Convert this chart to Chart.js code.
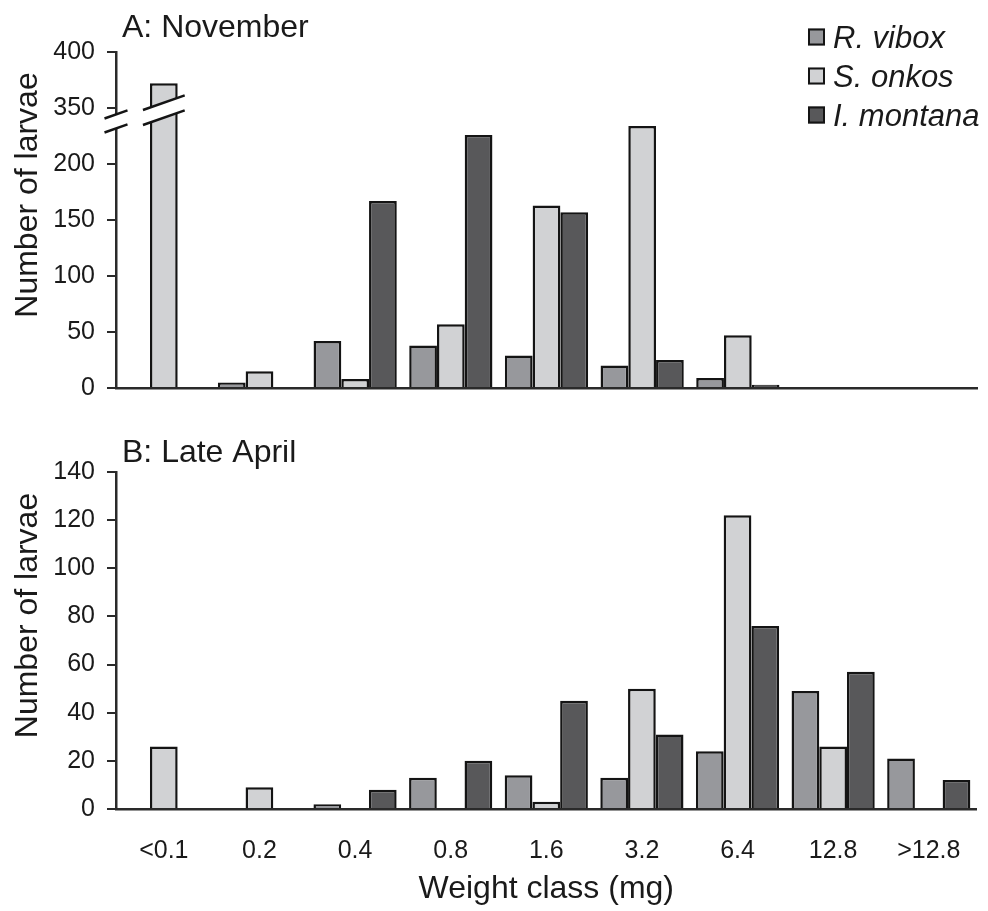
<!DOCTYPE html>
<html>
<head>
<meta charset="utf-8">
<title>Larval weight classes</title>
<script src="https://cdn.jsdelivr.net/npm/chart.js@4.4.1/dist/chart.umd.min.js"></script>
<style>
  html, body { margin: 0; padding: 0; background: #fff; }
  #wrap { position: relative; width: 988px; height: 911px; overflow: hidden; }
  #wrap canvas { position: absolute; left: 0; }
  #chartA { top: 0; }
  #chartB { top: 440px; }
</style>
</head>
<body>
<div id="wrap">
  <canvas id="chartA" width="988" height="430"></canvas>
  <canvas id="chartB" width="988" height="471"></canvas>
</div>
<script>
// ---- data ----
const weightClasses = ['<0.1', '0.2', '0.4', '0.8', '1.6', '3.2', '6.4', '12.8', '>12.8'];
const speciesNames = ['R. vibox', 'S. onkos', 'I. montana'];

// A: November, number of larvae per weight class
const novVibox   = [0, 5, 42, 38, 29, 20, 9, 0, 0];
const novOnkos   = [372, 15, 8, 57, 163, 234, 47, 0, 0];
const novMontana = [0, 0, 167, 226, 157, 25, 3, 0, 0];

// B: Late April, number of larvae per weight class
const aprVibox   = [0, 0, 2, 13, 14, 13, 24, 49, 21];
const aprOnkos   = [26, 9, 0, 0, 3, 50, 122, 26, 0];
const aprMontana = [0, 0, 8, 20, 45, 31, 76, 57, 12];

// y-axis tick labels
const novTicks = [0, 50, 100, 150, 200, 350, 400];
const aprTicks = [0, 20, 40, 60, 80, 100, 120, 140];

// ---- broken axis for panel A: values above the break are shifted down ----
const BREAK_SHIFT = 100;           // 350 is drawn where 250 would be
const toBroken = v => (v > 300 ? v - BREAK_SHIFT : v);

// ---- styling ----
const FONT = '"Liberation Sans", Arial, Helvetica, sans-serif';
Chart.defaults.font.family = FONT;
Chart.defaults.color = '#1a1a1a';
const fills = ['#97989c', '#d1d2d4', '#58585a'];
const edge = '#141414';
const axisColor = '#2a2a2a';

function makeDatasets(series, map) {
  return series.map((data, i) => ({
    label: speciesNames[i],
    data: data.map(map),
    backgroundColor: fills[i],
    borderColor: edge,
    borderWidth: 2.5,
    categoryPercentage: 0.87,
    barPercentage: 1.0
  }));
}

function makeScales(showX, yTicks, map) {
  return {
    x: {
      type: 'category',
      offset: true,
      grid: { display: false, drawTicks: false },
      border: { display: true, color: axisColor, width: 2.5, z: 1 },
      ticks: { display: showX, font: { size: 25 }, padding: 27, maxRotation: 0, autoSkip: false },
      title: { display: showX, text: 'Weight class (mg)', font: { size: 32 }, padding: { top: 0, bottom: 3 } },
      afterFit: s => { s.height = showX ? 102 : 0; }
    },
    y: {
      min: map(yTicks[0]),
      max: map(yTicks[yTicks.length - 1]),
      grid: { display: true, drawOnChartArea: false, drawTicks: true, tickLength: 9, color: axisColor, lineWidth: 2 },
      border: { display: true, color: axisColor, width: 2.5, z: 1 },
      ticks: { font: { size: 25 }, padding: 12, callback: (v, i) => String(yTicks[i]) },
      afterBuildTicks: s => { s.ticks = yTicks.map(v => ({ value: map(v) })); },
      afterFit: s => { s.width = 116; }
    }
  };
}

// panel heading and rotated y-axis title
const panelText = {
  id: 'panelText',
  afterDraw(chart, args, opts) {
    const { ctx, chartArea } = chart;
    ctx.save();
    ctx.fillStyle = '#1a1a1a';
    ctx.font = `32px ${FONT}`;
    ctx.textAlign = 'left';
    ctx.textBaseline = 'alphabetic';
    ctx.fillText(opts.heading, 122, chartArea.top - opts.headingGap);
    ctx.translate(37, (chartArea.top + chartArea.bottom) / 2 - 25);
    ctx.rotate(-Math.PI / 2);
    ctx.textAlign = 'center';
    ctx.fillText('Number of larvae', 0, 0);
    ctx.restore();
  }
};

// legend with small outlined squares, species names in italics
const speciesLegend = {
  id: 'speciesLegend',
  afterDraw(chart, args, opts) {
    if (!opts.show) return;
    const { ctx } = chart;
    ctx.save();
    chart.data.datasets.forEach((ds, i) => {
      const y = 37 + i * 39;
      ctx.fillStyle = ds.backgroundColor;
      ctx.fillRect(808, y - 8.5, 17, 17);
      ctx.strokeStyle = edge;
      ctx.lineWidth = 2;
      ctx.strokeRect(809, y - 7.5, 15, 15);
      ctx.fillStyle = '#1a1a1a';
      ctx.font = `italic 31px ${FONT}`;
      ctx.textAlign = 'left';
      ctx.textBaseline = 'middle';
      ctx.fillText(ds.label, 833, y + 2);
    });
    ctx.restore();
  }
};

// break marks on the y axis and across the tall bar
const axisBreak = {
  id: 'axisBreak',
  afterDraw(chart, args, opts) {
    if (!opts.show) return;
    const { ctx } = chart;
    const y = chart.scales.y;
    const slope = 0.35;
    function cut(cx, cy, half, gap) {
      const dy = slope * half;
      ctx.beginPath();
      ctx.moveTo(cx - half, cy - gap + dy);
      ctx.lineTo(cx + half, cy - gap - dy);
      ctx.lineTo(cx + half, cy + gap - dy);
      ctx.lineTo(cx - half, cy + gap + dy);
      ctx.closePath();
      ctx.fillStyle = '#fff';
      ctx.fill();
      ctx.beginPath();
      ctx.moveTo(cx - half, cy - gap + dy);
      ctx.lineTo(cx + half, cy - gap - dy);
      ctx.moveTo(cx - half, cy + gap + dy);
      ctx.lineTo(cx + half, cy + gap - dy);
      ctx.strokeStyle = edge;
      ctx.lineWidth = 2.5;
      ctx.stroke();
    }
    ctx.save();
    cut(chart.chartArea.left, y.getPixelForValue(opts.axisAt), 11.5, 7);
    const bar = chart.getDatasetMeta(opts.dataset).data[opts.index];
    cut(bar.x, y.getPixelForValue(opts.barAt), bar.width / 2 + 7, 7.5);
    ctx.restore();
  }
};

const common = {
  responsive: false,
  animation: false,
  events: [],
  plugins: { legend: { display: false }, tooltip: { enabled: false } }
};

new Chart(document.getElementById('chartA'), {
  type: 'bar',
  data: { labels: weightClasses, datasets: makeDatasets([novVibox, novOnkos, novMontana], toBroken) },
  options: {
    ...common,
    layout: { padding: { top: 52, right: 11, bottom: 42, left: 0 } },
    scales: makeScales(false, novTicks, toBroken),
    plugins: {
      ...common.plugins,
      panelText: { heading: 'A: November', headingGap: 15 },
      speciesLegend: { show: true },
      axisBreak: { show: true, axisAt: 238, barAt: 248, dataset: 1, index: 0 }
    }
  },
  plugins: [panelText, speciesLegend, axisBreak]
});

new Chart(document.getElementById('chartB'), {
  type: 'bar',
  data: { labels: weightClasses, datasets: makeDatasets([aprVibox, aprOnkos, aprMontana], v => v) },
  options: {
    ...common,
    layout: { padding: { top: 32, right: 11, bottom: 0, left: 0 } },
    scales: makeScales(true, aprTicks, v => v),
    plugins: {
      ...common.plugins,
      panelText: { heading: 'B: Late April', headingGap: 10 },
      speciesLegend: { show: false },
      axisBreak: { show: false }
    }
  },
  plugins: [panelText, speciesLegend, axisBreak]
});
</script>
</body>
</html>
